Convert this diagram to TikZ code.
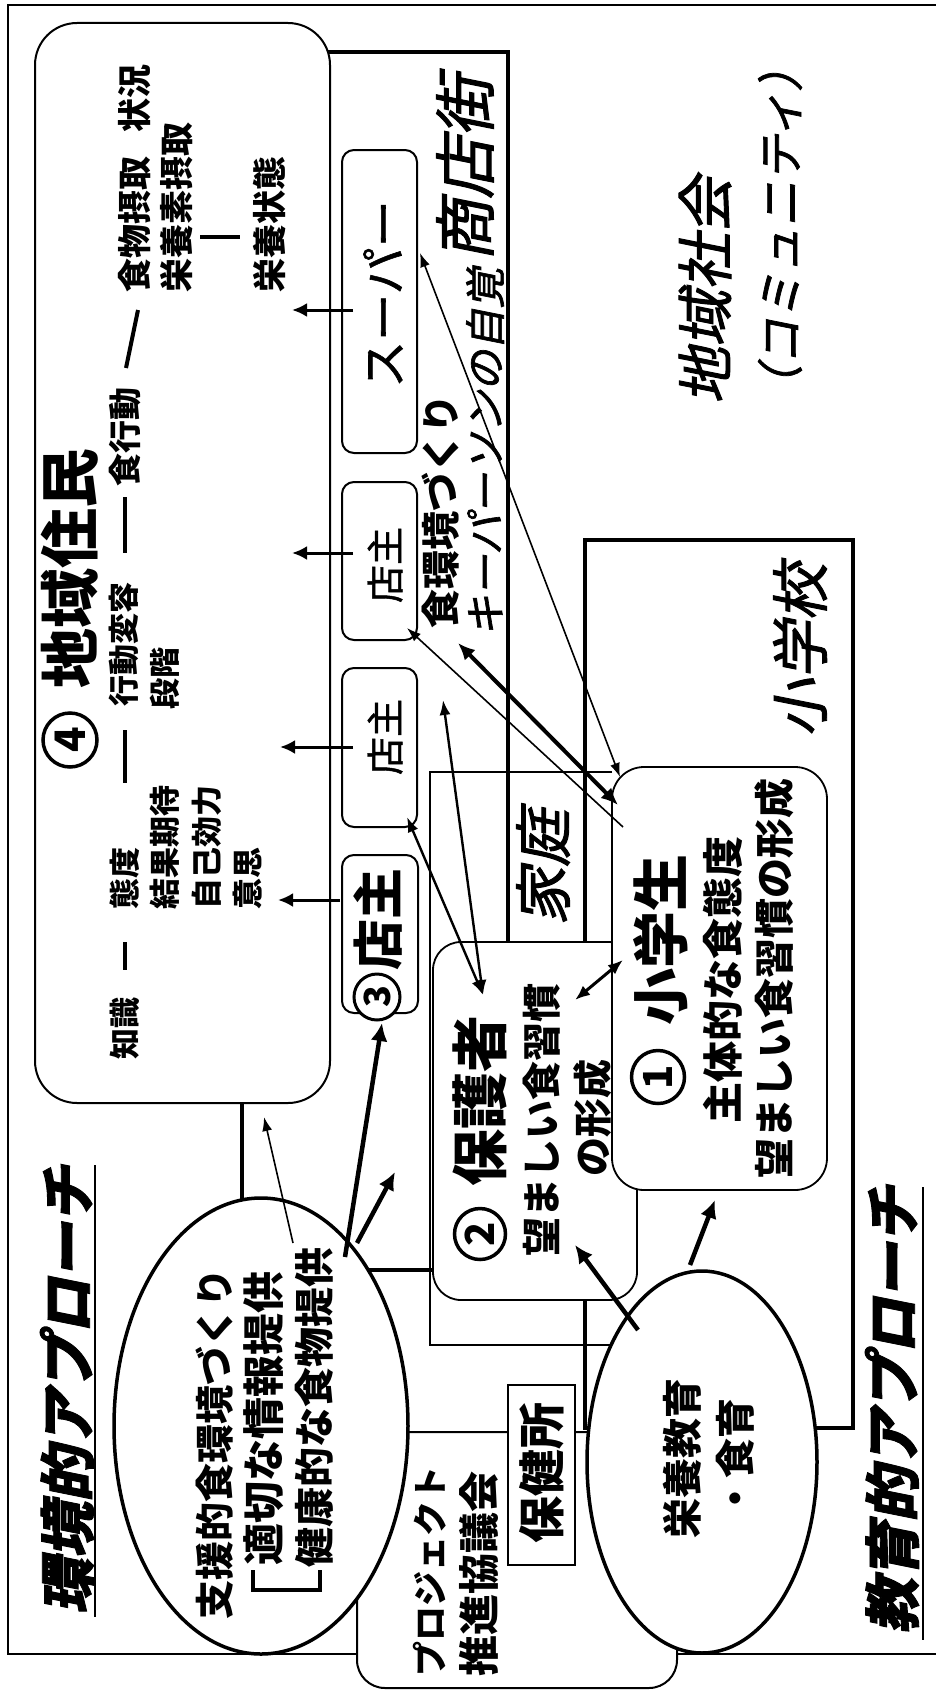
\documentclass[tikz,border=0pt]{standalone}
\usepackage{fontspec}
\usetikzlibrary{arrows.meta,shapes.geometric}
\setmainfont{Noto Sans CJK JP}
\newfontfamily\jpit{Noto Sans CJK JP}[FakeSlant=0.2, FakeBold=1.6]
\newfontfamily\jpmed{Noto Sans CJK JP}[FakeBold=1.2]
\newcommand\fsz[1]{\fontsize{#1}{#1}\selectfont}
\begin{document}
\begin{tikzpicture}[x=1pt,y=-1pt,
  txt/.style={inner sep=0pt, rotate=90},
  circnum/.style={circle, draw, line width=3.5pt, inner sep=0pt, rotate=90, fill=white},
  bx/.style={draw, line width=2pt, fill=white, inner sep=0pt},
  region/.style={draw, line width=4.5pt, inner sep=0pt},
  oval/.style={ellipse, draw, line width=3.5pt, fill=white, inner sep=0pt},
  dashbar/.style={line width=4pt},
  tipS/.style={-{Latex[length=14pt,width=10pt]}},
  tipM/.style={-{Latex[length=15pt,width=14pt]}},
  tipL/.style={-{Latex[length=18pt,width=17pt]}},
  thinarr/.style={line width=1.6pt},
  midarr/.style={line width=3pt},
  thickarr/.style={line width=4.5pt}
]
\fill[white] (0,0) rectangle (935,1691);
\useasboundingbox (0,0) rectangle (935,1691);

% outer frame (community)
\draw[line width=2.2pt] (940,5) -- (8,5) -- (8,1654) -- (940,1654);

% regions
\node[region, minimum width=266pt, minimum height=1218pt] (shoten) at (375,661) {};
\node[region, minimum width=268pt, minimum height=888pt] (gakko) at (719,984) {};
\draw[line width=2pt] (612,772) -- (430,772) -- (430,1345) -- (625,1345);

% community residents box
\node[bx, rounded corners=42pt, minimum width=295pt, minimum height=1080pt] (jumin) at (182.5,563) {};

% shop boxes
\node[bx, rounded corners=12pt, minimum width=75pt, minimum height=303pt] (super) at (379.5,301.5) {};
\node[bx, rounded corners=12pt, minimum width=75pt, minimum height=158pt] (ten1) at (379.5,561) {};
\node[bx, rounded corners=12pt, minimum width=75pt, minimum height=159pt] (ten2) at (379.5,747.5) {};
\node[bx, rounded corners=12pt, minimum width=76pt, minimum height=158pt] (ten3) at (380,934) {};

% project box and health centre
\node[bx, rounded corners=28pt, minimum width=320pt, minimum height=256pt] (proj) at (517,1560) {};
\node[bx, line width=1.8pt, minimum width=67pt, minimum height=180pt] (hoken) at (541.5,1475) {};

% ellipses
\node[oval, minimum width=294pt, minimum height=456pt] (shien) at (261,1426) {};
\node[oval, minimum width=230pt, minimum height=382pt] (eiyo) at (702,1462) {};

% guardian and pupil boxes
\node[bx, line width=1.8pt, rounded corners=28pt, minimum width=204pt, minimum height=358pt] (hogo) at (535,1121) {};
\node[bx, line width=1.8pt, rounded corners=32pt, minimum width=215pt, minimum height=423pt] (sei) at (719.5,978.5) {};

% ---- labels ----
\node[txt, font=\jpit\bfseries\fsz{56}] (kankyo) at (67,1390) {環境的アプローチ};
\draw[line width=2.5pt] (95,1165) -- (95,1617);
\node[txt, font=\jpit\bfseries\fsz{56}] (kyoiku) at (892,1410) {教育的アプローチ};
\draw[line width=2.5pt] (923,1187) -- (923,1640);
\node[txt, font=\jpit\fsz{57}] (chiiki) at (705,290) {地域社会};
\node[txt, font=\jpit\fsz{46}] (comm) at (780,228) {（コミュニティ）};
\node[txt, font=\jpit\fsz{62}] (shotengai) at (465,168) {商店街};
\node[txt, font=\jpit\fsz{41}] (keyp) at (485,452) {キーパーソンの自覚};
\node[txt, font=\bfseries\fsz{39}] (shokukan) at (441,511) {食環境づくり};
\node[txt, font=\jpit\fsz{58}] (shogakko) at (800,650) {小学校};
\node[txt, font=\jpit\fsz{58}] (katei) at (543,867) {家庭};

% residents contents
\node[circnum, minimum size=54pt, font=\bfseries\fsz{42}] (c4) at (70,740) {4};
\node[txt, font=\bfseries\fsz{60}] (t4) at (70,568) {地域住民};
\node[txt, font=\bfseries\fsz{31}] (chishiki) at (125,1028) {知識};
\node[txt, font=\bfseries\fsz{31}, anchor=west] (taido) at (125,910) {態度};
\node[txt, font=\bfseries\fsz{31}, anchor=west] (kekka) at (165,910) {結果期待};
\node[txt, font=\bfseries\fsz{31}, anchor=west] (jiko) at (207,910) {自己効力};
\node[txt, font=\bfseries\fsz{31}, anchor=west] (ishi) at (248,910) {意思};
\node[txt, font=\bfseries\fsz{31}, anchor=west] (kodo) at (124,707) {行動変容};
\node[txt, font=\bfseries\fsz{31}, anchor=west] (dankai) at (165,710) {段階};
\node[txt, font=\bfseries\fsz{33}, anchor=west] (shokukodo) at (125,487) {食行動};
\node[txt, font=\bfseries\fsz{34}, anchor=west] (shokumotsu) at (135,293) {食物摂取};
\node[txt, font=\bfseries\fsz{34}, anchor=west] (jokyo) at (135,133) {状況};
\node[txt, font=\bfseries\fsz{34}, anchor=west] (eiyoso) at (177,293) {栄養素摂取};
\node[txt, font=\bfseries\fsz{34}, anchor=west] (eiyojotai) at (270,293) {栄養状態};
\draw[dashbar] (125,942) -- (125,970);
\draw[dashbar] (125,730) -- (125,783);
\draw[dashbar] (125,497) -- (125,553);
\draw[dashbar] (138,310) -- (126,368);
\draw[dashbar] (200,237) -- (240,237);

% shop texts
\node[txt, font=\jpmed\fsz{47}] (superT) at (383,294) {スーパー};
\node[txt, font=\jpmed\fsz{38}] (ten1T) at (385,565) {店主};
\node[txt, font=\jpmed\fsz{38}] (ten2T) at (385,737) {店主};
\node[circnum, line width=3pt, minimum size=46pt, font=\bfseries\fsz{36}] (c3) at (377,997) {3};
\node[txt, font=\bfseries\fsz{51}] (ten3T) at (378,919) {店主};

% pupil
\node[circnum, minimum size=53pt, font=\bfseries\fsz{40}] (c1) at (658,1077) {1};
\node[txt, font=\bfseries\fsz{57}] (seiT) at (661,940) {小学生};
\node[txt, font=\bfseries\fsz{41}] (seiA) at (723,980) {主体的な食態度};
\node[txt, font=\bfseries\fsz{40}] (seiB) at (774,978) {望ましい食習慣の形成};

% guardian
\node[circnum, minimum size=51pt, font=\bfseries\fsz{40}] (c2) at (480,1234) {2};
\node[txt, font=\bfseries\fsz{57}] (hogoT) at (480,1101) {保護者};
\node[txt, font=\bfseries\fsz{39}] (hogoA) at (542,1120) {望ましい食習慣};
\node[txt, font=\bfseries\fsz{39}] (hogoB) at (593,1118) {の形成};

% support ellipse
\node[txt, font=\bfseries\fsz{39}] (shienA) at (215,1444) {支援的食環境づくり};
\node[txt, font=\bfseries\fsz{42}] (shienB) at (264,1418) {適切な情報提供};
\node[txt, font=\bfseries\fsz{40}] (shienC) at (314,1407) {健康的な食物提供};
\draw[line width=4pt] (253,1570) -- (253,1590) -- (320,1590) -- (320,1570);

% nutrition ellipse
\node[txt, font=\bfseries\fsz{40}] (eiyoA) at (682,1458) {栄養教育};
\node[txt, font=\bfseries\fsz{40}] (eiyoB) at (735,1458) {・食育};

% project
\node[txt, font=\bfseries\fsz{35}, anchor=west] (projA) at (430,1677) {プロジェクト};
\node[txt, font=\bfseries\fsz{41}, anchor=west] (projB) at (479,1677) {推進協議会};
\node[txt, font=\bfseries\fsz{47}] (hokenT) at (542,1473) {保健所};

% ---- connectors ----
\coordinate (a1s) at (353,310); \coordinate (a1e) at (292,310);
\coordinate (a2s) at (353,553); \coordinate (a2e) at (292,553);
\coordinate (a3s) at (353,747); \coordinate (a3e) at (280,747);
\coordinate (a4s) at (340,900); \coordinate (a4e) at (278,900);
\draw[tipM, line width=3pt] (a1s) -- (a1e);
\draw[tipM, line width=3pt] (a2s) -- (a2e);
\draw[tipM, line width=3pt] (a3s) -- (a3e);
\draw[tipM, line width=3pt] (a4s) -- (a4e);

\coordinate (superR) at (420,253); \coordinate (seiTop) at (620,777);
\draw[thinarr, {Latex[length=14pt,width=10pt]}-{Latex[length=14pt,width=10pt]}] (superR) -- (seiTop);
\coordinate (ten1C) at (407,628); \coordinate (seiC1) at (623,827);
\draw[thinarr, tipS] (seiC1) -- (ten1C);
\coordinate (shokuP) at (458,643); \coordinate (seiC2) at (618,805);
\draw[line width=4pt, {Latex[length=17pt,width=15pt]}-{Latex[length=17pt,width=15pt]}] (shokuP) -- (seiC2);
\coordinate (ten2C) at (407,817); \coordinate (hogoP) at (483,995);
\coordinate (shopP) at (443,700);
\draw[line width=2.4pt, {Latex[length=15pt,width=11pt]}-{Latex[length=15pt,width=11pt]}] (ten2C) -- (hogoP);
\draw[line width=2.4pt, {Latex[length=15pt,width=11pt]}-{Latex[length=15pt,width=11pt]}] (shopP) -- (hogoP);
\coordinate (hogoQ) at (575,1000); \coordinate (seiQ) at (623,960);
\draw[midarr, {Latex[length=15pt,width=12pt]}-{Latex[length=15pt,width=12pt]}] (hogoQ) -- (seiQ);

\coordinate (shienS1) at (293,1243); \coordinate (juminB) at (264,1117);
\draw[thinarr, tipS] (shienS1) -- (juminB);
\coordinate (shienS2) at (345,1257); \coordinate (ten3B) at (382,1023);
\draw[thickarr, tipL] (shienS2) -- (ten3B);
\coordinate (shienS3) at (357,1243); \coordinate (kateiP) at (395,1172);
\draw[thickarr, tipL] (shienS3) -- (kateiP);

\coordinate (eiyoS1) at (638,1330); \coordinate (hogoB) at (575,1245);
\draw[thickarr, tipL] (eiyoS1) -- (hogoB);
\coordinate (eiyoS2) at (690,1265); \coordinate (seiB) at (715,1200);
\draw[thickarr, tipL] (eiyoS2) -- (seiB);
\end{tikzpicture}
\end{document}
